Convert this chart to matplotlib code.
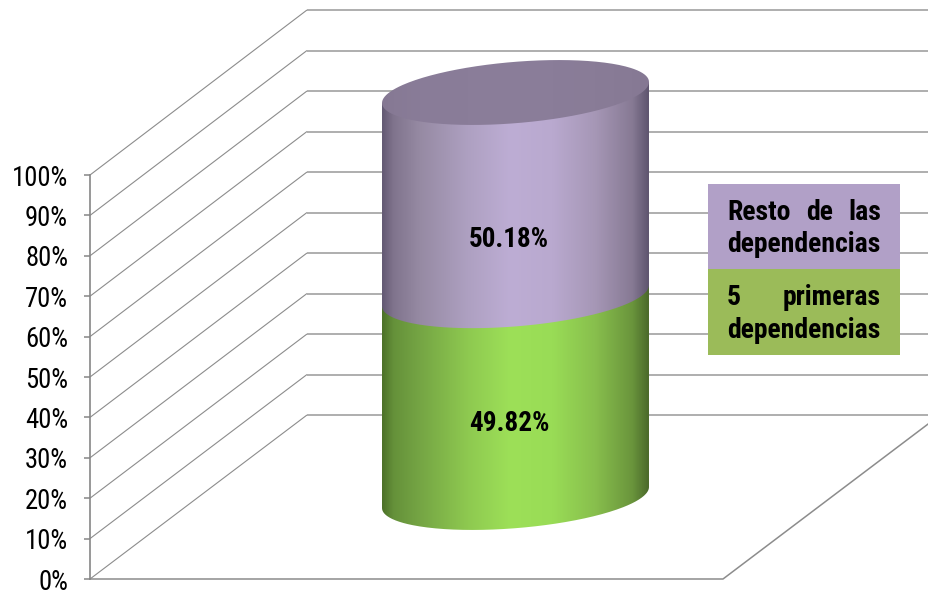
import numpy as np
import matplotlib
matplotlib.use("Agg")
import matplotlib.pyplot as plt
from matplotlib import font_manager as fm
from matplotlib.colors import LinearSegmentedColormap
from matplotlib.patches import PathPatch, Rectangle
from matplotlib.path import Path

# ---- data ----
categories = ["5 primeras dependencias", "Resto de las dependencias"]
values = [49.82, 50.18]
tick_values = [0, 10, 20, 30, 40, 50, 60, 70, 80, 90, 100]
tick_labels = ["0%", "10%", "20%", "30%", "40%", "50%", "60%", "70%", "80%", "90%", "100%"]

# ---- fonts ----
names = {f.name for f in fm.fontManager.ttflist}
FONT = "Roboto Condensed" if "Roboto Condensed" in names else "Liberation Sans"
plt.rcParams["font.family"] = [FONT, "DejaVu Sans"]

W, H = 929, 590
fig = plt.figure(figsize=(W / 100, H / 100), dpi=100, facecolor="white")
ax = fig.add_axes([0, 0, 1, 1], zorder=1)
ax.axis("off")
ax.set_xlim(0, W)
ax.set_ylim(H, 0)

# ---- oblique projection of the 3-D box (percent -> pixel) ----
FX, FY0, FPX = 90, 579, 4.04
BX, BY0, BPX = 307, 415, 4.05
BACK_RIGHT = 940
FLOOR_RIGHT = 723
GRID = "#8c8c8c"


def front(p):
    return FY0 - FPX * p


def back(p):
    return BY0 - BPX * p


for p in tick_values:
    ax.plot([FX, BX], [front(p), back(p)], color=GRID, lw=0.8, zorder=1, solid_capstyle="butt")
    ax.plot([BX, BACK_RIGHT], [back(p), back(p)], color="#999999", lw=1.1, zorder=1, solid_capstyle="butt")
ax.plot([FX, FLOOR_RIGHT, BACK_RIGHT], [FY0, FY0, BY0], color=GRID, lw=1.1, zorder=1)

# ---- cylinder ----
CX, RX, SKEW, RY = 515.5, 133.5, 10.5, 30.7
C0 = 497.5
CPX = 4.05


def arc(p, t0, t1, n=160):
    t = np.linspace(t0, t1, n)
    return CX + RX * np.cos(t), C0 - CPX * p - SKEW * np.cos(t) + RY * np.sin(t)


def band(lo, hi):
    x0, y0 = arc(lo, np.pi, 0)
    xs = np.r_[x0, CX + RX, CX - RX, x0[0]]
    ys = np.r_[y0, C0 - CPX * hi - SKEW, C0 - CPX * hi + SKEW, y0[0]]
    return Path(np.c_[xs, ys])


def shaded(path, stops, z):
    cmap = LinearSegmentedColormap.from_list("c", stops)
    im = ax.imshow(np.linspace(0, 1, 400)[None, :], cmap=cmap, vmin=0, vmax=1, aspect="auto",
                   extent=(CX - RX, CX + RX, H, 0), zorder=z, interpolation="bilinear")
    patch = PathPatch(path, transform=ax.transData, fc="none", ec="none")
    ax.add_patch(patch)
    im.set_clip_path(patch)


POS = [0.0, 0.04, 0.14, 0.32, 0.48, 0.64, 0.80, 0.94, 1.0]
green = ["#4d7229", "#65913a", "#75a544", "#8ec950", "#9de058", "#99dc56", "#88bf4d", "#6a953c", "#4c6b2b"]
purple = ["#645a74", "#80748d", "#968aa3", "#aea0c1", "#bdadd4", "#b9a9cf", "#a697b6", "#877a94", "#605670"]
lid = ["#857893", "#877a95", "#897c98", "#8a7d99", "#8b7e9a", "#8a7d99", "#897c97", "#877a95", "#857893"]

bottom = 0.0
for val, stops, z in zip(values, [green, purple], [3, 4]):
    shaded(band(bottom, bottom + val), list(zip(POS, stops)), z)
    bottom += val

x_top, y_top = arc(bottom, 0, 2 * np.pi, 240)
shaded(Path(np.c_[x_top, y_top]), list(zip(POS, lid)), 5)

LABEL_X = 509
LABEL_DY = [27, 45]
bottom = 0.0
for val, dy in zip(values, LABEL_DY):
    ax.text(LABEL_X, C0 - CPX * (bottom + val / 2) + dy, f"{val:.2f}%", ha="center", va="center",
            fontsize=19.5, fontweight="bold", color="black", zorder=6)
    bottom += val

# ---- legend (justified text) ----
LX0, LX1 = 708, 900
TX0, TX1 = 727, 881
LEG_FS = 20
boxes = [(269, 355, "#9BBB59", (305, 338)), (184, 269, "#B1A0C7", (220, 252))]
renderer = fig.canvas.get_renderer()


def justified_line(words, base):
    items = [ax.text(0, base, w, ha="left", va="baseline", fontsize=LEG_FS, fontweight="bold", zorder=8)
             for w in words]
    widths = [t.get_window_extent(renderer).width for t in items]
    gap = (TX1 - TX0 - sum(widths)) / (len(words) - 1) if len(words) > 1 else 0
    x = TX0
    for t, w in zip(items, widths):
        t.set_x(x)
        x += w + gap


for cat, (y0, y1, col, bases) in zip(categories, boxes):
    ax.add_patch(Rectangle((LX0, y0), LX1 - LX0, y1 - y0, fc=col, ec="none", zorder=7))
    words = cat.split()
    justified_line(words[:-1], bases[0])
    justified_line(words[-1:], bases[1])

ax.set_xlim(0, W)
ax.set_ylim(H, 0)

# ---- value axis ----
axy = fig.add_axes([FX / W, 1 - front(0) / H, 0.001, (front(0) - front(100)) / H], zorder=2)
axy.patch.set_alpha(0)
axy.set_ylim(0, 100)
axy.set_xticks([])
axy.set_yticks(tick_values)
axy.set_yticklabels(tick_labels, fontsize=19.2, color="black")
axy.tick_params(axis="y", length=4.3, width=1.1, color="#868686", pad=11.5)
for name, sp in axy.spines.items():
    sp.set_visible(name == "left")
axy.spines["left"].set_color("#868686")
axy.spines["left"].set_linewidth(1.2)

fig.savefig("out.png", dpi=100, facecolor="white")
